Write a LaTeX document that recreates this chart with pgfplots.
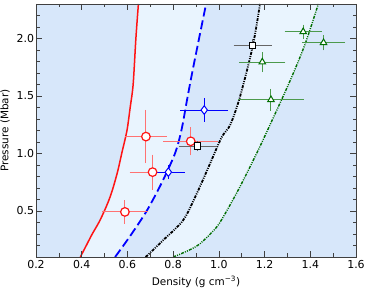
\documentclass[border=0pt]{standalone}
\usepackage{fontspec}
\setmainfont{DejaVu Sans}
\usepackage{pgfplots}
\pgfplotsset{compat=1.18}
\usepgfplotslibrary{fillbetween}
\definecolor{bgdark}{RGB}{215,231,250}
\definecolor{bglight}{RGB}{233,244,254}
\definecolor{mgreen}{RGB}{0,110,0}
\definecolor{mred}{RGB}{255,20,20}
\pgfplotsset{
  ebars/.style={draw=none, mark=none, forget plot,
    error bars/.cd, x dir=both, x explicit, y dir=both, y explicit,
    error bar style={#1, line width=1bp}, error mark options={#1, line width=1bp, mark size=2.5bp}},
}
\pgfplotstableread{
x y ex ey
0.589 0.492 0.09 0.08
0.71 0.838 0.09 0.13
0.681 1.147 0.08 0.21
0.877 1.106 0.11 0.10
}\redpts
\pgfplotstableread{
x y ex ey
0.936 1.378 0.094 0.08
0.779 0.838 0.06 0.04
}\bluepts
\pgfplotstableread{
x y ex ey
1.148 1.94 0.073 0.03
0.906 1.063 0.07 0.02
}\blackpts
\pgfplotstableread{
x y ex ey
1.369 2.058 0.07 0.04
1.458 1.963 0.083 0.045
1.19 1.795 0.09 0.065
1.228 1.467 0.133 0.073
}\greenpts
\begin{document}
\begin{tikzpicture}
\begin{axis}[
  scale only axis, width=320bp, height=253bp,
  xmin=0.2, xmax=1.6, ymin=0.1, ymax=2.3,
  xtick={0.2,0.4,0.6,0.8,1.0,1.2,1.4,1.6},
  minor xtick={0.3,0.5,0.7,0.9,1.1,1.3,1.5},
  ytick={0.5,1.0,1.5,2.0},
  minor ytick={0.2,0.3,0.4,0.6,0.7,0.8,0.9,1.1,1.2,1.3,1.4,1.6,1.7,1.8,1.9,2.1,2.2},
  tick align=inside, major tick length=6bp, minor tick length=3.5bp,
  every tick/.style={black!75, line width=0.6bp},
  axis line style={black!75, line width=0.8bp},
  xticklabel style={/pgf/number format/.cd, fixed, fixed zerofill, precision=1},
  yticklabel style={xshift=1.5bp, /pgf/number format/.cd, fixed, fixed zerofill, precision=1},
  /pgf/number format/assume math mode=true,
  ticklabel style={font=\fontsize{11}{12}\selectfont},
  label style={font=\fontsize{10.5}{12}\selectfont},
  xlabel={Density (g cm\textsuperscript{−3})},
  ylabel={Pressure (Mbar)},
  axis background/.style={fill=bgdark},
  axis on top,
]
\addplot[name path=redc, mred, line width=1.5bp, smooth] coordinates {
(0.394,0.1) (0.42,0.2) (0.446,0.3) (0.475,0.4) (0.499,0.5) (0.52,0.6) (0.537,0.7)
(0.558,0.85) (0.575,1.0) (0.598,1.2) (0.612,1.4) (0.625,1.6) (0.637,2.0) (0.648,2.3)};
\addplot[name path=bluec, blue, line width=1.8bp, dash pattern=on 9bp off 4bp, smooth] coordinates {
(0.546,0.1) (0.611,0.28) (0.684,0.5) (0.75,0.745) (0.808,1.0) (0.837,1.21) (0.862,1.48) (0.888,1.75) (0.944,2.3)};
\addplot[name path=blackc, black, line width=1.8bp, dash pattern=on 3bp off 1.2bp on 1bp off 1.2bp on 1bp off 1.2bp, smooth] coordinates {
(0.68,0.1) (0.757,0.247) (0.844,0.42) (0.903,0.65) (0.961,0.91) (1.012,1.14) (1.05,1.25) (1.092,1.49) (1.148,1.93) (1.18,2.3)};
\addplot[name path=greenc, mgreen, line width=1.4bp, dash pattern=on 3bp off 1.2bp on 1bp off 1.2bp on 1bp off 1.2bp, smooth] coordinates {
(0.80,0.1) (0.87,0.16) (0.92,0.22) (0.99,0.36) (1.034,0.5) (1.092,0.71) (1.165,1.0) (1.224,1.25) (1.311,1.63) (1.377,1.95) (1.435,2.3)};
\addplot[bglight, draw=none] fill between[of=redc and greenc];
\addplot[bgdark, draw=none] fill between[of=bluec and blackc];
% error bars
\addplot[ebars=mred!60] table[x=x, y=y, x error=ex, y error=ey] {\redpts};
\addplot[ebars=blue] table[x=x, y=y, x error=ex, y error=ey] {\bluepts};
\addplot[ebars=black!60] table[x=x, y=y, x error=ex, y error=ey] {\blackpts};
\addplot[ebars=mgreen!70] table[x=x, y=y, x error=ex, y error=ey] {\greenpts};
% markers
\addplot[only marks, mark=*, mark size=4.3bp, mred, line width=1.2bp, mark options={fill=white, draw=mred}]
  table[x=x, y=y] {\redpts};
\addplot[only marks, mark=diamond*, mark size=4.3bp, blue, line width=1bp, mark options={fill=white, draw=blue}]
  table[x=x, y=y] {\bluepts};
\addplot[only marks, mark=square*, mark size=3.3bp, black, line width=1bp, mark options={fill=white, draw=black}]
  table[x=x, y=y] {\blackpts};
\addplot[only marks, mark=triangle*, mark size=3.8bp, mgreen, line width=1bp, mark options={fill=white, draw=mgreen}]
  table[x=x, y=y] {\greenpts};
\end{axis}
\pgfresetboundingbox
\path ([shift={(-36bp,-35bp)}]current axis.south west) rectangle ([shift={(12bp,4bp)}]current axis.north east);
\end{tikzpicture}
\end{document}
